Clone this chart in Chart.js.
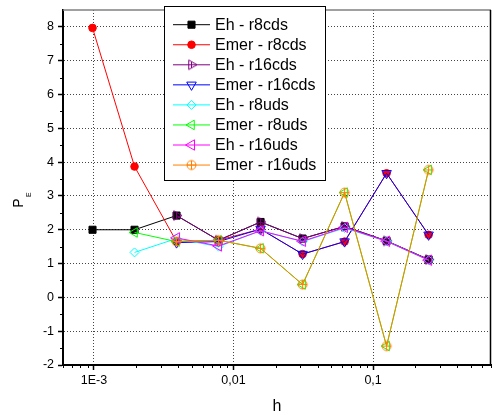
<!DOCTYPE html>
<html>
<head>
<meta charset="utf-8">
<script src="https://cdn.jsdelivr.net/npm/chart.js@4.4.0/dist/chart.umd.min.js"></script>
<style>
    html, body { margin: 0; padding: 0; background: #ffffff; }
    #cadre { width: 498px; height: 416px; }
</style>
</head>
<body>
<div id="cadre"><canvas id="graphiquePE" width="498" height="416"></canvas></div>
<script>
// 1. DONNÉES
const hValues = [0.0009765625, 0.001953125, 0.00390625, 0.0078125, 0.015625, 0.03125, 0.0625, 0.125, 0.25];

const ehR8cds    = [2.0, 2.0, 2.42, 1.69, 2.23, 1.74, 2.10, 1.67, 1.12];
const emerR8cds  = [7.97, 3.87, 1.65, 1.69, 2.02, 1.28, 1.65, 3.67, 1.85];
const ehR16cds   = [null, null, 2.42, 1.69, 2.23, 1.74, 2.10, 1.67, 1.12];
const emerR16cds = [null, null, 1.62, 1.65, 2.02, 1.28, 1.65, 3.67, 1.85];
const ehR8uds    = [null, 1.33, 1.74, 1.50, 1.97, 1.65, 2.05, 1.66, 1.10];
const emerR8uds  = [null, 1.92, 1.65, 1.69, 1.45, 0.38, 3.10, -1.44, 3.77];
const ehR16uds   = [null, null, 1.76, 1.52, 1.97, 1.66, 2.07, 1.66, 1.10];
const emerR16uds = [null, null, 1.65, 1.69, 1.45, 0.38, 3.10, -1.44, 3.77];

const yTicks = [-2, -1, 0, 1, 2, 3, 4, 5, 6, 7, 8];
const yMinorTicks = [-1.5, -0.5, 0.5, 1.5, 2.5, 3.5, 4.5, 5.5, 6.5, 7.5];
const xTicks = [0.001, 0.01, 0.1];
const xTickLabels = ['1E-3', '0,01', '0,1'];
const xMinorTicks = [0.0006, 0.0007, 0.0008, 0.0009,
                     0.002, 0.003, 0.004, 0.005, 0.006, 0.007, 0.008, 0.009,
                     0.02, 0.03, 0.04, 0.05, 0.06, 0.07, 0.08, 0.09,
                     0.2, 0.3, 0.4, 0.5, 0.6, 0.7];

const POLICE = '"Liberation Sans", Arial, sans-serif';

// Zone de tracé visée (en pixels)
const ZONE = { left: 63, right: 497, top: 10, bottom: 365 };

// 2. MARQUEURS SPÉCIAUX (triangle barré, cercle croisé)
function marqueurCanvas(couleur, forme) {
    const c = document.createElement('canvas');
    c.width = 15; c.height = 15;
    const g = c.getContext('2d');
    g.strokeStyle = couleur;
    g.lineWidth = 1;
    const cx = 7.5, cy = 7.5;
    g.beginPath();
    if (forme === 'triangleBarre') {
        const r = 5.5;
        g.moveTo(cx + r, cy);
        g.lineTo(cx - r / 2, cy - r * 0.866);
        g.lineTo(cx - r / 2, cy + r * 0.866);
        g.closePath();
        g.moveTo(cx, cy - r * 0.577);
        g.lineTo(cx, cy + r * 0.577);
    } else {
        const r = 4.5;
        g.arc(cx, cy, r, 0, 2 * Math.PI);
        g.moveTo(cx - r, cy); g.lineTo(cx + r, cy);
        g.moveTo(cx, cy - r); g.lineTo(cx, cy + r);
    }
    g.stroke();
    return c;
}

const series = [
    { label: 'Eh - r8cds',    values: ehR8cds,    color: '#000000', fond: '#000000', style: 'rect',     radius: 5 },
    { label: 'Emer - r8cds',  values: emerR8cds,  color: '#FF0000', fond: '#FF0000', style: 'circle',   radius: 3.8 },
    { label: 'Eh - r16cds',   values: ehR16cds,   color: '#800080', fond: 'rgba(0,0,0,0)', style: marqueurCanvas('#800080', 'triangleBarre'), radius: 5 },
    { label: 'Emer - r16cds', values: emerR16cds, color: '#0000FF', fond: 'rgba(0,0,0,0)', style: 'triangle', radius: 5.5, rotation: 180 },
    { label: 'Eh - r8uds',    values: ehR8uds,    color: '#00FFFF', fond: 'rgba(0,0,0,0)', style: 'rectRot',  radius: 4.5 },
    { label: 'Emer - r8uds',  values: emerR8uds,  color: '#00FF00', fond: 'rgba(0,0,0,0)', style: 'triangle', radius: 5.5, rotation: -90 },
    { label: 'Eh - r16uds',   values: ehR16uds,   color: '#FF00FF', fond: 'rgba(0,0,0,0)', style: 'triangle', radius: 6, rotation: -90 },
    { label: 'Emer - r16uds', values: emerR16uds, color: '#FF8000', fond: 'rgba(0,0,0,0)', style: marqueurCanvas('#FF8000', 'cercleCroix'), radius: 5 }
];

// Dessin d'un marqueur pour la légende (même forme que les points)
function dessinerMarqueur(ctx, ds, x, y) {
    const style = ds.pointStyle;
    if (style instanceof HTMLCanvasElement) {
        ctx.drawImage(style, x - style.width / 2, y - style.height / 2);
        return;
    }
    const r = ds.pointRadius;
    ctx.save();
    ctx.fillStyle = ds.pointBackgroundColor;
    ctx.strokeStyle = ds.pointBorderColor;
    ctx.lineWidth = 1;
    ctx.beginPath();
    if (style === 'rect') {
        const s = r * Math.SQRT1_2;
        ctx.rect(x - s, y - s, 2 * s, 2 * s);
    } else if (style === 'circle') {
        ctx.arc(x, y, r, 0, 2 * Math.PI);
    } else if (style === 'rectRot') {
        ctx.moveTo(x - r, y); ctx.lineTo(x, y - r); ctx.lineTo(x + r, y); ctx.lineTo(x, y + r);
        ctx.closePath();
    } else if (style === 'triangle') {
        let a = (ds.pointRotation || 0) * Math.PI / 180;
        ctx.moveTo(x + Math.sin(a) * r, y - Math.cos(a) * r);
        a += 2 * Math.PI / 3;
        ctx.lineTo(x + Math.sin(a) * r, y - Math.cos(a) * r);
        a += 2 * Math.PI / 3;
        ctx.lineTo(x + Math.sin(a) * r, y - Math.cos(a) * r);
        ctx.closePath();
    }
    ctx.fill();
    ctx.stroke();
    ctx.restore();
}

// 3. PLUGIN : cadre, graduations mineures, légende encadrée, titre P_E
const decorPlugin = {
    id: 'decor',
    afterDraw(chart) {
        const ctx = chart.ctx;
        const area = chart.chartArea;
        const sx = chart.scales.x, sy = chart.scales.y;
        ctx.save();

        // Cadre haut (gris) et droit (noir)
        ctx.strokeStyle = '#808080';
        ctx.lineWidth = 1.5;
        ctx.beginPath();
        ctx.moveTo(area.left, area.top);
        ctx.lineTo(area.right, area.top);
        ctx.stroke();
        ctx.strokeStyle = '#000000';
        ctx.beginPath();
        ctx.moveTo(area.right - 0.5, area.top);
        ctx.lineTo(area.right - 0.5, area.bottom);
        ctx.stroke();

        // Graduations mineures
        ctx.lineWidth = 1;
        ctx.beginPath();
        yMinorTicks.forEach(v => {
            const py = Math.round(sy.getPixelForValue(v)) + 0.5;
            ctx.moveTo(area.left - 3, py);
            ctx.lineTo(area.left, py);
        });
        xMinorTicks.forEach(v => {
            const px = Math.round(sx.getPixelForValue(v)) + 0.5;
            ctx.moveTo(px, area.bottom);
            ctx.lineTo(px, area.bottom + 3);
        });
        ctx.stroke();

        // Légende encadrée
        const lx = 164.5, ly = 6.5, lw = 161, lh = 174;
        ctx.fillStyle = '#ffffff';
        ctx.fillRect(lx, ly, lw, lh);
        ctx.strokeStyle = '#000000';
        ctx.lineWidth = 1;
        ctx.strokeRect(lx, ly, lw, lh);
        ctx.font = '16px ' + POLICE;
        ctx.textBaseline = 'middle';
        ctx.textAlign = 'left';
        chart.data.datasets.forEach((ds, i) => {
            const yy = 24.7 + i * 20.05;
            ctx.strokeStyle = ds.borderColor;
            ctx.lineWidth = 1;
            ctx.beginPath();
            ctx.moveTo(173, yy);
            ctx.lineTo(210, yy);
            ctx.stroke();
            dessinerMarqueur(ctx, ds, 191.5, yy);
            ctx.fillStyle = '#000000';
            ctx.fillText(ds.label, 215, yy + 1);
        });

        // Titre de l'axe Y : P indice E (vertical)
        ctx.translate(19, 203);
        ctx.rotate(-Math.PI / 2);
        ctx.fillStyle = '#000000';
        ctx.textAlign = 'center';
        ctx.font = '14px ' + POLICE;
        ctx.fillText('P', 0, 0);
        ctx.font = '7px ' + POLICE;
        ctx.fillText('E', 8.3, 10.5);
        ctx.restore();
    }
};

// 4. GRAPHIQUE
const ctxPE = document.getElementById('graphiquePE').getContext('2d');
const graphiquePE = new Chart(ctxPE, {
    type: 'line',
    data: {
        datasets: series.map((s, i) => ({
            label: s.label,
            data: hValues.map((h, k) => ({ x: h, y: s.values[k] })).filter(p => p.y !== null),
            borderColor: s.color,
            backgroundColor: s.fond,
            borderWidth: 1,
            pointStyle: s.style,
            pointRadius: s.radius,
            pointRotation: s.rotation || 0,
            pointBackgroundColor: s.fond,
            pointBorderColor: s.color,
            pointBorderWidth: 1,
            tension: 0,
            fill: false,
            order: -i
        }))
    },
    options: {
        responsive: false,
        animation: false,
        events: [],
        layout: { padding: { top: ZONE.top, right: 1, left: 0, bottom: 0 } },
        plugins: {
            legend: { display: false },
            tooltip: { enabled: false }
        },
        scales: {
            x: {
                type: 'logarithmic',
                min: 0.0006,
                max: 0.7,
                afterBuildTicks: s => { s.ticks = xTicks.map(v => ({ value: v })); },
                afterFit: s => { s.height = 51; s.paddingLeft = 0; s.paddingRight = 0; },
                grid: { color: '#444444', lineWidth: 1, tickLength: 5, tickColor: '#000000', tickWidth: 1.5 },
                border: { color: '#000000', width: 2, dash: [1, 2] },
                ticks: {
                    color: '#000000',
                    font: { family: POLICE, size: 12.5 },
                    padding: 3,
                    autoSkip: false,
                    maxRotation: 0,
                    callback: (v, i) => xTickLabels[i]
                },
                title: {
                    display: true,
                    text: 'h',
                    color: '#000000',
                    font: { family: POLICE, size: 16 },
                    padding: { top: 0, bottom: 0 }
                }
            },
            y: {
                min: -2,
                max: 8.5,
                afterBuildTicks: s => { s.ticks = yTicks.map(v => ({ value: v })); },
                afterFit: s => { s.width = 63; s.paddingTop = 0; s.paddingBottom = 0; },
                grid: { color: '#444444', lineWidth: 1, tickLength: 5, tickColor: '#000000', tickWidth: 1.5 },
                border: { color: '#000000', width: 2, dash: [1, 2] },
                ticks: {
                    color: '#000000',
                    font: { family: POLICE, size: 12.5 },
                    padding: 4,
                    callback: v => String(v)
                }
            }
        }
    },
    plugins: [decorPlugin]
});

// 5. RECALAGE DE LA ZONE DE TRACÉ sur la position voulue
const pad = graphiquePE.options.layout.padding;
const aire = graphiquePE.chartArea;
pad.left += ZONE.left - aire.left;
pad.right += aire.right - ZONE.right;
pad.top += ZONE.top - aire.top;
pad.bottom += aire.bottom - ZONE.bottom;
graphiquePE.update();
</script>
</body>
</html>
